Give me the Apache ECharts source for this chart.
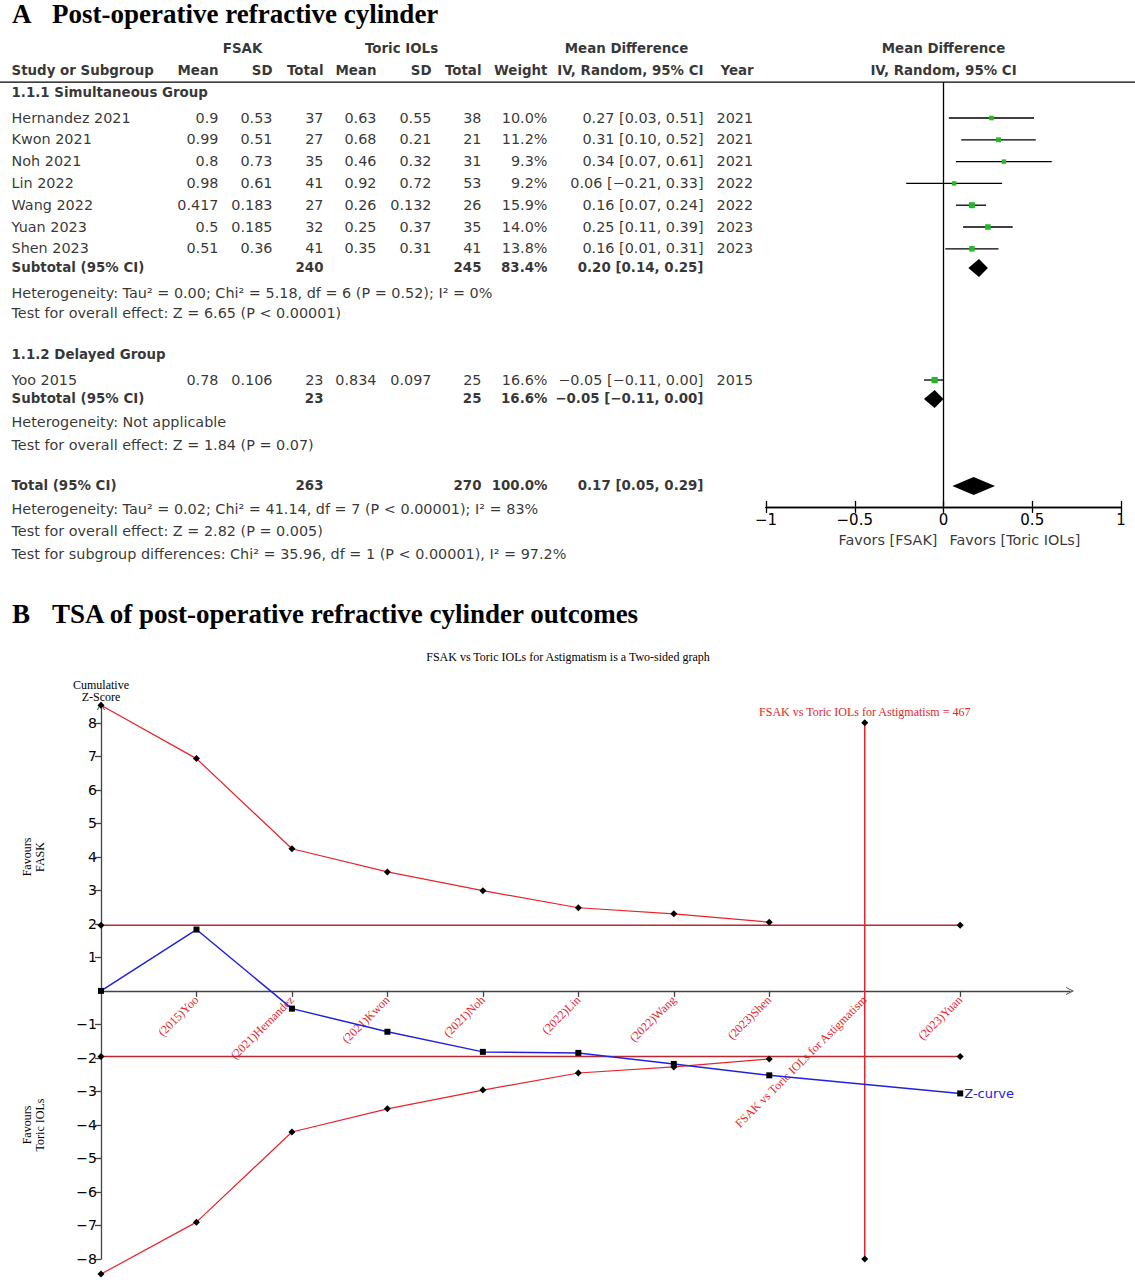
<!DOCTYPE html>
<html><head><meta charset="utf-8">
<script src="https://cdn.jsdelivr.net/npm/echarts@6/dist/echarts.min.js"></script>
<style>html,body{margin:0;padding:0;background:#fff}#c{width:1135px;height:1280px}</style>
</head><body><div id="c"></div>
<script>
// ================= Panel A data =================
const studyNames = ['Hernandez 2021','Kwon 2021','Noh 2021','Lin 2022','Wang 2022','Yuan 2023','Shen 2023','Yoo 2015'];
const fsakMean   = ['0.9','0.99','0.8','0.98','0.417','0.5','0.51','0.78'];
const fsakSD     = ['0.53','0.51','0.73','0.61','0.183','0.185','0.36','0.106'];
const fsakTotal  = [37,27,35,41,27,32,41,23];
const toricMean  = ['0.63','0.68','0.46','0.92','0.26','0.25','0.35','0.834'];
const toricSD    = ['0.55','0.21','0.32','0.72','0.132','0.37','0.31','0.097'];
const toricTotal = [38,21,31,53,26,35,41,25];
const weights    = [10.0,11.2,9.3,9.2,15.9,14.0,13.8,16.6];
const md         = [0.27,0.31,0.34,0.06,0.16,0.25,0.16,-0.05];
const ciLow      = [0.03,0.10,0.07,-0.21,0.07,0.11,0.01,-0.11];
const ciHigh     = [0.51,0.52,0.61,0.33,0.24,0.39,0.31,0.00];
const years      = [2021,2021,2021,2022,2022,2023,2023,2015];

const summaryNames      = ['Subtotal (95% CI)','Subtotal (95% CI)','Total (95% CI)'];
const summaryFsakTotal  = [240,23,263];
const summaryToricTotal = [245,25,270];
const summaryWeight     = [83.4,16.6,100.0];
const summaryMD         = [0.20,-0.05,0.17];
const summaryLow        = [0.14,-0.11,0.05];
const summaryHigh       = [0.25,0.00,0.29];

const groupTitles = ['1.1.1 Simultaneous Group','1.1.2 Delayed Group'];
const notes = [
  'Heterogeneity: Tau\u00b2 = 0.00; Chi\u00b2 = 5.18, df = 6 (P = 0.52); I\u00b2 = 0%',
  'Test for overall effect: Z = 6.65 (P < 0.00001)',
  'Heterogeneity: Not applicable',
  'Test for overall effect: Z = 1.84 (P = 0.07)',
  'Heterogeneity: Tau\u00b2 = 0.02; Chi\u00b2 = 41.14, df = 7 (P < 0.00001); I\u00b2 = 83%',
  'Test for overall effect: Z = 2.82 (P = 0.005)',
  'Test for subgroup differences: Chi\u00b2 = 35.96, df = 1 (P < 0.00001), I\u00b2 = 97.2%'
];
const forestTicks = [-1,-0.5,0,0.5,1];
const favorsLeft = 'Favors [FSAK]';
const favorsRight = 'Favors [Toric IOLs]';

// ================= Panel B data =================
const tsaLabels = ['', '(2015)Yoo','(2021)Hernandez','(2021)Kwon','(2021)Noh','(2022)Lin','(2022)Wang','(2023)Shen','FSAK vs Toric IOLs for Astigmatism','(2023)Yuan'];
const zCurveX  = [0,1,2,3,4,5,6,7,9];
const zCurveY  = [0,1.83,-0.53,-1.22,-1.82,-1.85,-2.18,-2.52,-3.06];
const boundX   = [0,1,2,3,4,5,6,7];
const upperBound = [8.52,6.93,4.24,3.55,2.99,2.48,2.30,2.05];
const lowerBound = [-8.45,-6.90,-4.21,-3.52,-2.96,-2.45,-2.27,-2.03];
const convBound = 1.96;
const convX = [0,9];
const risX = 8;
const risExtent = [8,-8];
const risName = 'FSAK vs Toric IOLs for Astigmatism';
const risValue = 467;
const tsaYTicks = [-8,-7,-6,-5,-4,-3,-2,-1,1,2,3,4,5,6,7,8];
const tsaXTicks = [1,2,3,4,5,6,7,9];
const tsaXLabelValues = [1,2,3,4,5,6,7,8,9];

// ================= layout =================
const ROW0 = 118, ROWH = 21.8;
const TAB_MIN = -4, TAB_MAX = 21;
const FOR_MIN = -1.65, FOR_MAX = 17.84;
const studyRows = [0,1,2,3,4,5,6,12.02];
const summaryRows = [6.88,12.89,16.88];
const R = {h1:-3.17, h2:-2.16, g1:-1.15, g2:10.87, notes:[8.03,8.99,13.99,15.0,17.98,18.99,20.0], favors:19.36};
const C = {name:12, fMean:219, fSD:273, fTot:324, tMean:377, tSD:432, tTot:482, wt:548, ci:704, year:717, yearHdr:721,
           fsakHdr:243, toricHdr:402, mdHdr:627, plotHdr:944, favL:938, favR:950};
const SANS = 'DejaVu Sans', SERIF = 'Liberation Serif';
const FS = 14.4, FSB = 13.4;
const TSA_TOP = 706, TSA_BOTTOM_PX = 1259, TSA_YMIN = -8, TSA_YMAX = 8.5;
const zeroOffset = -(TSA_BOTTOM_PX - TSA_TOP) * (0 - TSA_YMIN) / (TSA_YMAX - TSA_YMIN);

const minus = v => (v < 0 ? '\u2212' : '') + Math.abs(v);
const f2 = v => (v < 0 ? '\u2212' : '') + Math.abs(v).toFixed(2);
const fmtCI = (m,l,h) => `${f2(m)} [${f2(l)}, ${f2(h)}]`;

const texts = [];
function T(x,row,text,align,bold){
  texts.push({value:[x,row], label:{formatter:String(text), align:align,
    fontWeight: bold ? 'bold' : 'normal', fontSize: bold ? FSB : FS}});
}
T(C.fsakHdr,R.h1,'FSAK','center',true);
T(C.toricHdr,R.h1,'Toric IOLs','center',true);
T(C.mdHdr,R.h1,'Mean Difference','center',true);
T(C.plotHdr,R.h1,'Mean Difference','center',true);
T(C.name,R.h2,'Study or Subgroup','left',true);
T(C.fMean,R.h2,'Mean','right',true); T(C.fSD,R.h2,'SD','right',true); T(C.fTot,R.h2,'Total','right',true);
T(C.tMean,R.h2,'Mean','right',true); T(C.tSD,R.h2,'SD','right',true); T(C.tTot,R.h2,'Total','right',true);
T(C.wt,R.h2,'Weight','right',true); T(C.ci,R.h2,'IV, Random, 95% CI','right',true);
T(C.yearHdr,R.h2,'Year','left',true); T(C.plotHdr,R.h2,'IV, Random, 95% CI','center',true);
T(C.name,R.g1,groupTitles[0],'left',true);
T(C.name,R.g2,groupTitles[1],'left',true);
studyNames.forEach((n,i)=>{
  const r = studyRows[i];
  T(C.name,r,n,'left',false);
  T(C.fMean,r,fsakMean[i],'right',false); T(C.fSD,r,fsakSD[i],'right',false); T(C.fTot,r,fsakTotal[i],'right',false);
  T(C.tMean,r,toricMean[i],'right',false); T(C.tSD,r,toricSD[i],'right',false); T(C.tTot,r,toricTotal[i],'right',false);
  T(C.wt,r,weights[i].toFixed(1)+'%','right',false);
  T(C.ci,r,fmtCI(md[i],ciLow[i],ciHigh[i]),'right',false);
  T(C.year,r,years[i],'left',false);
});
summaryNames.forEach((n,i)=>{
  const r = summaryRows[i];
  T(C.name,r,n,'left',true);
  T(C.fTot,r,summaryFsakTotal[i],'right',true);
  T(C.tTot,r,summaryToricTotal[i],'right',true);
  T(C.wt,r,summaryWeight[i].toFixed(1)+'%','right',true);
  T(C.ci,r,fmtCI(summaryMD[i],summaryLow[i],summaryHigh[i]),'right',true);
});
notes.forEach((n,i)=>T(C.name,R.notes[i],n,'left',false));
T(C.favL,R.favors,favorsLeft,'right',false);
T(C.favR,R.favors,favorsRight,'left',false);

const tabTop = ROW0 + TAB_MIN*ROWH, tabBot = ROW0 + TAB_MAX*ROWH;
const forTop = ROW0 + FOR_MIN*ROWH, forBot = ROW0 + FOR_MAX*ROWH;

const chevron = 'path://M0,10 L5,0 L10,10 L8.8,10 L5,2.6 L1.2,10 Z';

const studyData = md.map((m,i)=>[m,ciLow[i],ciHigh[i],studyRows[i],weights[i]]);
const summaryData = summaryMD.map((m,i)=>[m,summaryLow[i],summaryHigh[i],summaryRows[i]]);

const option = {
  animation:false,
  backgroundColor:'#fff',
  textStyle:{fontFamily:SANS},
  grid:[
    {left:0, right:0, top:tabTop, height:tabBot-tabTop, outerBoundsMode:'none', containLabel:false},
    {left:766, right:1135-1121, top:forTop, height:forBot-forTop, outerBoundsMode:'none', containLabel:false},
    {left:101, right:65, top:TSA_TOP, height:TSA_BOTTOM_PX-TSA_TOP, outerBoundsMode:'none', containLabel:false}
  ],
  xAxis:[
    {gridIndex:0, type:'value', min:0, max:1135, show:false},
    {gridIndex:1, type:'value', min:-1, max:1, interval:0.5, position:'bottom',
      axisLine:{onZero:false, lineStyle:{color:'#000', width:1.3}},
      axisTick:{inside:false, length:6, lineStyle:{color:'#000', width:1.3}},
      axisLabel:{margin:6, color:'#000', fontSize:15, fontFamily:SANS, formatter:v=>minus(v)},
      splitLine:{show:false}},
    {gridIndex:1, type:'value', min:-1, max:1, interval:0.5, position:'bottom',
      axisLine:{onZero:false, lineStyle:{color:'#000', width:1.3}},
      axisTick:{inside:true, length:6, lineStyle:{color:'#000', width:1.3}},
      axisLabel:{show:false}, splitLine:{show:false}},
    {gridIndex:2, type:'value', min:0, max:10.15, position:'bottom', offset:zeroOffset,
      axisLine:{onZero:false, symbol:['none',chevron], symbolSize:[8,14], lineStyle:{color:'#444', width:1.3}},
      axisTick:{show:true, customValues:tsaXTicks, length:6, lineStyle:{color:'#444', width:1.3}},
      axisLabel:{show:true, customValues:tsaXLabelValues, formatter:v=>tsaLabels[v]||'', rotate:45, margin:7,
        color:'#e3262c', fontFamily:SERIF, fontSize:12},
      splitLine:{show:false}}
  ],
  yAxis:[
    {gridIndex:0, type:'value', min:TAB_MIN, max:TAB_MAX, inverse:true, show:false},
    {gridIndex:1, type:'value', min:FOR_MIN, max:FOR_MAX, inverse:true, show:false},
    {gridIndex:2, type:'value', min:TSA_YMIN, max:TSA_YMAX, position:'left',
      axisLine:{show:true, onZero:false, symbol:['none',chevron], symbolSize:[14,8], lineStyle:{color:'#444', width:1.3}},
      axisTick:{show:true, customValues:tsaYTicks, length:6, lineStyle:{color:'#444', width:1.3}},
      axisLabel:{show:true, customValues:tsaYTicks, formatter:v=>minus(v), margin:4, color:'#000', fontFamily:SANS, fontSize:14},
      splitLine:{show:false}}
  ],
  graphic:[
    {type:'text', left:12, top:0, style:{text:'A', font:'bold 27px "Liberation Serif"', fill:'#000'}},
    {type:'text', left:52, top:0, style:{text:'Post-operative refractive cylinder', font:'bold 27px "Liberation Serif"', fill:'#000'}},
    {type:'text', left:12, top:600, style:{text:'B', font:'bold 27px "Liberation Serif"', fill:'#000'}},
    {type:'text', left:52, top:600, style:{text:'TSA of post-operative refractive cylinder outcomes', font:'bold 27px "Liberation Serif"', fill:'#000'}},
    {type:'text', x:568, y:657, style:{text:'FSAK vs Toric IOLs for Astigmatism is a Two-sided graph', font:'12px "Liberation Serif"', fill:'#000', align:'center', verticalAlign:'middle'}},
    {type:'text', x:101, y:691, style:{text:'Cumulative\nZ-Score', font:'12px "Liberation Serif"', fill:'#000', align:'center', verticalAlign:'middle', lineHeight:12}},
    {type:'text', x:33, y:857, rotation:Math.PI/2, style:{text:'Favours\nFASK', font:'12px "Liberation Serif"', fill:'#000', align:'center', verticalAlign:'middle', lineHeight:13}},
    {type:'text', x:33, y:1125, rotation:Math.PI/2, style:{text:'Favours\nToric IOLs', font:'12px "Liberation Serif"', fill:'#000', align:'center', verticalAlign:'middle', lineHeight:13}}
  ],
  series:[
    {type:'scatter', xAxisIndex:0, yAxisIndex:0, data:texts, symbolSize:1, itemStyle:{color:'rgba(0,0,0,0)'}, silent:true,
      label:{show:true, position:[0,0], verticalAlign:'middle', color:'#000', fontFamily:SANS, fontSize:FS}},
    {type:'line', xAxisIndex:0, yAxisIndex:0, data:[[0,FOR_MIN],[1135,FOR_MIN]], symbol:'none', lineStyle:{color:'#000', width:1.3}, silent:true},
    {type:'line', xAxisIndex:1, yAxisIndex:1, data:[[0,FOR_MIN],[0,FOR_MAX]], symbol:'none', lineStyle:{color:'#000', width:1.3}, silent:true},
    {type:'custom', xAxisIndex:1, yAxisIndex:1, data:studyData, encode:{x:[0,1,2], y:3}, silent:true,
      renderItem:(params, api)=>{
        const r = api.value(3);
        const p = api.coord([api.value(0), r]);
        const l = api.coord([api.value(1), r]);
        const h = api.coord([api.value(2), r]);
        const s = 2.2 + api.value(4)*0.24;
        return {type:'group', children:[
          {type:'line', shape:{x1:l[0], y1:l[1], x2:h[0], y2:h[1]}, style:{stroke:'#000', lineWidth:1.3}},
          {type:'rect', shape:{x:p[0]-s/2, y:p[1]-s/2, width:s, height:s}, style:{fill:'#27b827'}}
        ]};
      }},
    {type:'custom', xAxisIndex:1, yAxisIndex:1, data:summaryData, encode:{x:[0,1,2], y:3}, silent:true,
      renderItem:(params, api)=>{
        const r = api.value(3);
        const p = api.coord([api.value(0), r]);
        const l = api.coord([api.value(1), r]);
        const h = api.coord([api.value(2), r]);
        return {type:'polygon', shape:{points:[[l[0],p[1]],[p[0],p[1]-9],[h[0],p[1]],[p[0],p[1]+9]]}, style:{fill:'#000'}};
      }},
    {type:'line', xAxisIndex:3, yAxisIndex:2, data:convX.map(x=>[x,convBound]), symbol:'diamond', symbolSize:7,
      itemStyle:{color:'#000'}, lineStyle:{color:'#b8282e', width:1.5}, clip:false, z:3},
    {type:'line', xAxisIndex:3, yAxisIndex:2, data:convX.map(x=>[x,-convBound]), symbol:'diamond', symbolSize:7,
      itemStyle:{color:'#000'}, lineStyle:{color:'#b8282e', width:1.5}, clip:false, z:3},
    {type:'line', xAxisIndex:3, yAxisIndex:2, data:boundX.map((x,i)=>[x,upperBound[i]]), symbol:'diamond', symbolSize:7,
      itemStyle:{color:'#000'}, lineStyle:{color:'#e8232b', width:1.2}, clip:false, z:3},
    {type:'line', xAxisIndex:3, yAxisIndex:2, data:boundX.map((x,i)=>[x,lowerBound[i]]), symbol:'diamond', symbolSize:7,
      itemStyle:{color:'#000'}, lineStyle:{color:'#e8232b', width:1.2}, clip:false, z:3},
    {type:'line', xAxisIndex:3, yAxisIndex:2,
      data:[{value:[risX,risExtent[0]], label:{show:true, position:'top', distance:1, formatter:`${risName} = ${risValue}`,
              color:'#e3262c', fontFamily:SERIF, fontSize:12}}, [risX,risExtent[1]]],
      symbol:'diamond', symbolSize:7, itemStyle:{color:'#000'}, lineStyle:{color:'#e8232b', width:1.5}, clip:false, z:3},
    {type:'line', xAxisIndex:3, yAxisIndex:2, data:zCurveX.map((x,i)=>[x,zCurveY[i]]), symbol:'rect', symbolSize:6,
      itemStyle:{color:'#000'}, lineStyle:{color:'#2222dd', width:1.5}, clip:false, z:5,
      endLabel:{show:true, formatter:'Z-curve', color:'#2222dd', fontFamily:SANS, fontSize:13, distance:4}}
  ]
};
const chart = echarts.init(document.getElementById('c'), null, {renderer:'svg', width:1135, height:1280});
chart.setOption(option);
</script></body></html>
